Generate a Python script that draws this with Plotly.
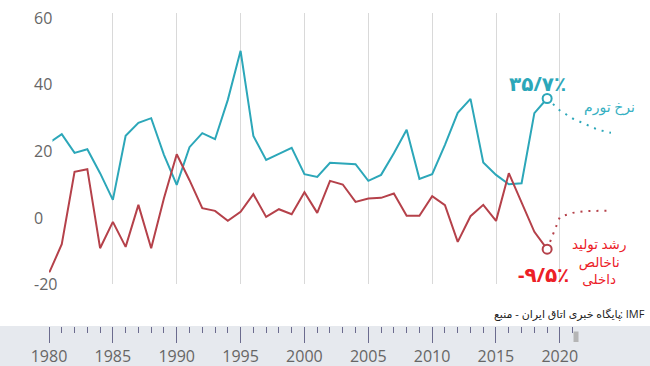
import plotly.graph_objects as go

# ---------------- data ----------------
years = list(range(1980, 2020))
inflation = [22.4, 25.0, 19.4, 20.5, 13.3, 5.3, 24.5, 28.4, 29.8, 18.8,
             9.8, 21.1, 25.3, 23.5, 35.3, 50.0, 24.5, 17.3, 19.1, 20.9,
             13.0, 12.2, 16.4, 16.3, 16.0, 11.0, 12.8, 19.3, 26.3, 11.6,
             13.0, 21.8, 31.4, 35.6, 16.5, 12.8, 10.0, 10.3, 31.3, 35.7]
gdp_growth = [-16.7, -8.0, 13.7, 14.5, -9.2, -1.3, -8.8, 3.8, -9.2, 5.8,
              19.0, 11.2, 2.8, 2.0, -1.0, 1.7, 7.0, 0.2, 2.5, 1.0,
              7.6, 1.4, 11.0, 9.9, 4.7, 5.7, 5.9, 7.2, 0.5, 0.5,
              6.4, 3.7, -7.3, 0.4, 3.8, -1.0, 13.3, 4.4, -4.3, -9.5]
proj_years = [2019, 2020, 2021, 2022, 2023, 2024]
inflation_proj = [35.7, 32.1, 29.7, 27.9, 26.3, 25.4]
gdp_proj = [-9.5, 0.2, 1.4, 1.9, 2.0, 2.0]
y_ticks = [60, 40, 20, 0, -20]
y_tick_labels = ["60", "40", "20", "0", "-20"]

inflation_label = "\u06F3\u06F5/\u06F7\u066A"          # ۳۵/۷٪
gdp_label = "-\u06F9/\u06F5\u066A"                      # -۹/۵٪
inflation_name = "نرخ تورم"
gdp_name = "رشد تولید<br>ناخالص<br>داخلی"
source_fa = "پایگاه خبری اتاق ایران - منبع"
source_en = ": IMF"

# ---------------- style ----------------
TEAL = "#2ca7b9"
RED = "#b5414a"
RED_TEXT = "#ec2027"
FONT = "Open Sans, DejaVu Sans, sans-serif"

fig = go.Figure()
fig.add_trace(go.Scatter(x=years, y=inflation, mode="lines",
                         line=dict(color=TEAL, width=2), hoverinfo="skip"))
fig.add_trace(go.Scatter(x=years, y=gdp_growth, mode="lines",
                         line=dict(color=RED, width=2), hoverinfo="skip"))
fig.add_trace(go.Scatter(x=proj_years, y=inflation_proj, mode="lines",
                         line=dict(color=TEAL, width=2, dash="2px,6px"), hoverinfo="skip"))
fig.add_trace(go.Scatter(x=proj_years, y=gdp_proj, mode="lines",
                         line=dict(color=RED, width=2, dash="2px,6px"), hoverinfo="skip"))
fig.add_trace(go.Scatter(x=[years[-1]], y=[inflation[-1]], mode="markers",
                         marker=dict(size=9, color="white", line=dict(color=TEAL, width=2)),
                         hoverinfo="skip"))
fig.add_trace(go.Scatter(x=[years[-1]], y=[gdp_growth[-1]], mode="markers",
                         marker=dict(size=9, color="white", line=dict(color=RED, width=2)),
                         hoverinfo="skip"))
# navigator axis carrier
fig.add_trace(go.Scatter(x=[years[0]], y=[0.5], mode="markers", xaxis="x2", yaxis="y2",
                         marker=dict(size=1, opacity=0), hoverinfo="skip"))

annotations = []
for v, t in zip(y_ticks, y_tick_labels):
    annotations.append(dict(x=-0.0285, xref="paper", y=v, yref="y", text=t,
                            xanchor="left", yanchor="middle", align="left",
                            width=18 if len(t) == 1 else None,
                            showarrow=False, bgcolor="white", borderpad=0,
                            font=dict(family=FONT, size=16, color="#666666")))

annotations += [
    dict(x=years[-1], y=inflation[-1], xref="x", yref="y", text=inflation_label,
         showarrow=False, xshift=-10, yshift=15,
         font=dict(family=FONT, size=20, color=TEAL, weight="bold")),
    dict(x=years[-1], y=inflation[-1], xref="x", yref="y", text=inflation_name,
         showarrow=False, xshift=62, yshift=-8,
         font=dict(family=FONT, size=14, color="#35b0c2")),
    dict(x=years[-1], y=gdp_growth[-1], xref="x", yref="y", text=gdp_label,
         showarrow=False, xshift=-4, yshift=-25,
         font=dict(family=FONT, size=20, color=RED_TEXT, weight="bold")),
    dict(x=years[-1], y=gdp_growth[-1], xref="x", yref="y", text=gdp_name,
         showarrow=False, xshift=52, yshift=-12, align="center",
         font=dict(family=FONT, size=13.5, color=RED_TEXT)),
    dict(x=1.0623, xref="paper", y=0.150, yref="paper", text=source_en,
         xanchor="right", yanchor="middle", showarrow=False, borderpad=0,
         font=dict(family=FONT, size=11, color="#222222")),
    dict(x=1.0195, xref="paper", y=0.150, yref="paper", text=source_fa,
         xanchor="right", yanchor="middle", showarrow=False, borderpad=0,
         font=dict(family=FONT, size=11, color="#222222")),
]

shapes = [
    dict(type="rect", xref="paper", yref="paper", x0=-0.1, x1=1.1, y0=0, y1=0.1133,
         fillcolor="#e6e9ee", line=dict(width=0), layer="below"),
    dict(type="rect", xref="paper", yref="paper", x0=0.9333, x1=0.9422, y0=0.068, y1=0.0977,
         fillcolor="#b5b5b5", line=dict(width=0), layer="above"),
]

fig.update_layout(
    width=650, height=366,
    margin=dict(l=49, r=39, t=13, b=0, pad=0),
    paper_bgcolor="white", plot_bgcolor="white",
    showlegend=False,
    font=dict(family=FONT),
    xaxis=dict(domain=[0, 1], range=[1980, 2024], tick0=1980, dtick=5,
               showgrid=True, gridcolor="#d9d9d9", gridwidth=1,
               showticklabels=False, ticks="", zeroline=False, showline=False,
               fixedrange=True),
    yaxis=dict(domain=[0.2317, 1], range=[-20, 61.35], showgrid=False,
               showticklabels=False, ticks="", zeroline=False, showline=False,
               fixedrange=True),
    xaxis2=dict(domain=[0, 0.9377], range=[1980, 2021.27], anchor="free", position=0.1133,
                side="bottom", tickmode="linear", tick0=1980, dtick=5,
                ticks="outside", ticklen=16, tickwidth=1, tickcolor="#6b6b8e",
                minor=dict(tick0=1980, dtick=1, ticks="outside", ticklen=6,
                           tickwidth=1, tickcolor="#6b6b8e", showgrid=False),
                showgrid=False, zeroline=False, showline=False,
                tickfont=dict(family=FONT, size=16, color="#666666"),
                fixedrange=True),
    yaxis2=dict(domain=[0, 0.1133], range=[0, 1], visible=False, fixedrange=True),
    annotations=annotations,
    shapes=shapes,
)

fig.write_html("out.html", config={"displayModeBar": False},
               post_script="document.body.style.margin='0';")
